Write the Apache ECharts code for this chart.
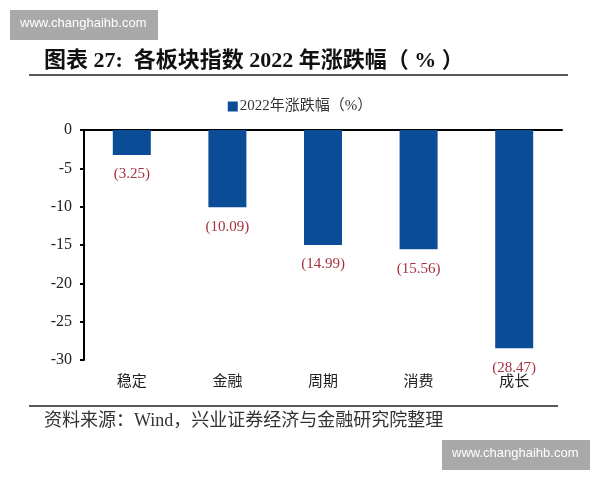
<!DOCTYPE html>
<html>
<head>
<meta charset="utf-8">
<script src="https://cdn.jsdelivr.net/npm/echarts@6/dist/echarts.min.js"></script>
<style>
  html, body { margin: 0; padding: 0; background: #fff; }
  #chart { width: 600px; height: 480px; }
</style>
</head>
<body>
<div id="chart"></div>
<script>
const categories = ['稳定', '金融', '周期', '消费', '成长'];
const changes = [-3.25, -10.09, -14.99, -15.56, -28.47];
const seriesName = '2022年涨跌幅（%）';
const titleText = '图表 27:  各板块指数 2022 年涨跌幅（ % ）';
const sourceText = '资料来源：Wind，兴业证券经济与金融研究院整理';
const watermark = 'www.changhaihb.com';

const serif = '"Liberation Serif", "Noto Sans CJK SC", serif';
const barColor = '#0b4c96';
const labelColor = '#a8303f';

const chart = echarts.init(document.getElementById('chart'));

const options = {
  animation: false,
  backgroundColor: '#fff',
  legend: {
    top: 94,
    left: 'center',
    itemWidth: 10,
    itemHeight: 10,
    itemGap: 4,
    icon: 'rect',
    textStyle: { fontFamily: serif, fontSize: 15, color: '#333', padding: [0, 0, 0, -3] },
    data: [seriesName],
  },
  grid: {
    left: 84,
    right: 38,
    top: 130,
    bottom: 120,
    containLabel: false,
  },
  xAxis: [
    {
      type: 'category',
      data: categories,
      position: 'bottom',
      axisLine: { show: false },
      axisTick: { show: false },
      axisLabel: { margin: 15, fontFamily: serif, fontSize: 15, color: '#222' },
    },
    {
      type: 'category',
      data: categories,
      position: 'top',
      axisLine: { show: true, onZero: false, lineStyle: { color: '#000', width: 2 } },
      axisTick: { show: false },
      axisLabel: { show: false },
    },
  ],
  yAxis: {
    type: 'value',
    min: -30,
    max: 0,
    interval: 5,
    axisLine: { show: true, lineStyle: { color: '#000', width: 2 } },
    axisTick: { show: true, length: 4, lineStyle: { color: '#000', width: 2 } },
    axisLabel: { margin: 12, fontFamily: serif, fontSize: 16, color: '#222' },
    splitLine: { show: false },
  },
  series: [
    {
      name: seriesName,
      type: 'bar',
      xAxisIndex: 0,
      data: changes,
      barWidth: 38,
      itemStyle: { color: barColor },
      label: {
        show: true,
        position: 'bottom',
        distance: 12,
        fontFamily: serif,
        fontSize: 15,
        color: labelColor,
        formatter: (p) => '(' + Math.abs(p.value).toFixed(2) + ')',
      },
    },
  ],
  graphic: [
    {
      type: 'rect',
      shape: { x: 10, y: 10, width: 148, height: 30 },
      style: { fill: '#a9a9a9' },
    },
    {
      type: 'text',
      left: 20,
      top: 17,
      style: { text: watermark, fill: '#fff', font: '13px "Liberation Sans", Arial, sans-serif' },
    },
    {
      type: 'text',
      left: 44,
      top: 50,
      style: { text: titleText, fill: '#111', font: 'bold 22px ' + serif },
    },
    {
      type: 'line',
      shape: { x1: 29, y1: 75, x2: 568, y2: 75 },
      style: { stroke: '#222', lineWidth: 1.5 },
    },
    {
      type: 'line',
      shape: { x1: 29, y1: 406, x2: 558, y2: 406 },
      style: { stroke: '#222', lineWidth: 1.5 },
    },
    {
      type: 'text',
      left: 44,
      top: 412,
      style: { text: sourceText, fill: '#333', font: '18px ' + serif },
    },
    {
      type: 'rect',
      shape: { x: 442, y: 440, width: 148, height: 30 },
      style: { fill: '#a9a9a9' },
    },
    {
      type: 'text',
      left: 452,
      top: 447,
      style: { text: watermark, fill: '#fff', font: '13px "Liberation Sans", Arial, sans-serif' },
    },
  ],
};

chart.setOption(options);
</script>
</body>
</html>
